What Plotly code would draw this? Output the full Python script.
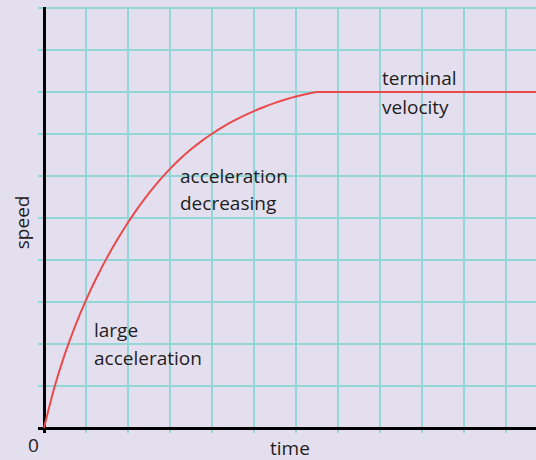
import plotly.graph_objects as go

# data (grid units)
time_vals = [0, 0.25, 0.5, 0.75, 1, 1.25, 1.5, 1.75, 2, 2.25, 2.5, 2.75, 3, 3.25, 3.5, 3.75,
             4, 4.25, 4.5, 4.75, 5, 5.25, 5.5, 5.75, 6, 6.25, 6.5, 6.75, 11.8]
speed_vals = [0, 0.974, 1.772, 2.451, 3.046, 3.577, 4.057, 4.494, 4.894, 5.26, 5.594, 5.897, 6.171,
              6.416, 6.635, 6.831, 7.006, 7.163, 7.304, 7.431, 7.545, 7.648, 7.74, 7.822, 7.893,
              7.952, 8.0, 8.0, 8.0]

labels = [
    ("terminal", 8.0, 8.33),
    ("velocity", 8.0, 7.64),
    ("acceleration", 3.2, 6.0),
    ("decreasing", 3.2, 5.36),
    ("large", 1.14, 2.33),
    ("acceleration", 1.14, 1.67),
]

BG = "#e4dfee"
GRID = "#93d6d8"
RED = "#e94a4c"
TXT = "#1f1c1e"
FONT = "Open Sans"
FS = 19

fig = go.Figure()
fig.add_trace(go.Scatter(x=time_vals, y=speed_vals, mode="lines",
                         line=dict(color=RED, width=2, shape="spline", smoothing=0.8, simplify=False),
                         hoverinfo="skip", showlegend=False))

ann = []
for txt, x, y in labels:
    ann.append(dict(x=x, y=y, xref="x", yref="y", text=txt, showarrow=False,
                    xanchor="left", yanchor="middle",
                    font=dict(family=FONT, size=FS, color=TXT)))
ann.append(dict(x=-0.07, y=-0.05, xref="x", yref="y", text="0", showarrow=False,
                xanchor="right", yanchor="top", font=dict(family=FONT, size=FS, color=TXT)))
ann.append(dict(x=5.86, xref="x", y=0, yref="paper", yshift=-15, text="time", showarrow=False,
                xanchor="center", yanchor="middle", font=dict(family=FONT, size=FS, color=TXT)))
ann.append(dict(xref="paper", yref="y", x=0, xshift=-16, y=4.9, text="speed", showarrow=False,
                textangle=-90, xanchor="center", yanchor="middle",
                font=dict(family=FONT, size=FS, color=TXT)))

fig.update_layout(
    width=536, height=460,
    margin=dict(l=38, r=0, t=7, b=27),
    paper_bgcolor=BG, plot_bgcolor=BG,
    annotations=ann,
    xaxis=dict(range=[-0.143, 11.714], dtick=1, tick0=0, showgrid=True, gridcolor=GRID, gridwidth=2,
               showticklabels=False, ticks="", zeroline=True, zerolinecolor="black", zerolinewidth=3,
               fixedrange=True),
    yaxis=dict(range=[-0.119, 10.024], dtick=1, tick0=0, showgrid=True, gridcolor=GRID, gridwidth=2,
               showticklabels=False, ticks="", zeroline=True, zerolinecolor="black", zerolinewidth=3,
               fixedrange=True),
)
fig.write_html("out.html", config={"displayModeBar": False})

# remove the browser's default page margin so the figure fills the window
with open("out.html", "r", encoding="utf-8") as f:
    html = f.read()
html = html.replace("<head>", "<head><style>html,body{margin:0;padding:0;overflow:hidden;background:%s}</style>" % BG, 1)
with open("out.html", "w", encoding="utf-8") as f:
    f.write(html)
